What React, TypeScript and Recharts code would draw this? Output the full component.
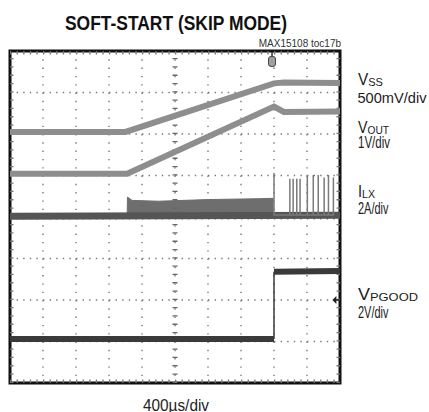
import { ComposedChart, Line, Area, XAxis, YAxis, CartesianGrid, ReferenceLine, ReferenceArea, ReferenceDot } from 'recharts'

// time axis in divisions (400us/div), vertical in divisions (8 div screen)
const xTicks = [0, 1, 2, 3, 4, 5, 6, 7, 8, 9, 10]
const yTicks = [0, 1, 2, 3, 4, 5, 6, 7, 8]

// VSS trace (500mV/div)
const vssT = [0, 3.5, 8.0, 8.3, 10]
const vssV = [6.05, 6.05, 7.22, 7.24, 7.23]

// VOUT trace (1V/div)
const voutT = [0, 3.55, 8.0, 8.3, 10]
const voutV = [5.04, 5.04, 6.66, 6.53, 6.54]

// ILX switching band during soft-start (top edge), bottom sits on the baseline
const ilxBandT = [3.55, 3.56, 3.7, 4.5, 6.0, 7.5, 7.99]
const ilxBandHi = [4.0, 4.48, 4.4, 4.38, 4.42, 4.44, 4.45]
const ilxBandLo = 3.97

// ILX baseline
const ilxBaseT = [0, 10]
const ilxBaseV = [4.02, 4.04]

// ILX skip-mode pulses after soft-start
const pulseT = [8.0, 8.48, 8.58, 8.69, 8.79, 9.01, 9.19, 9.34, 9.52, 9.65, 9.8]
const pulsePk = [5.06, 4.92, 4.92, 4.92, 4.92, 5.01, 5.01, 5.01, 4.95, 5.01, 4.95]
const ilxBase = 4.05

// VPGOOD (2V/div)
const pgLowT = [0, 8.0]
const pgLowV = [1.06, 1.06]
const pgHighT = [8.0, 10]
const pgHighV = [2.68, 2.7]

const vssData = vssT.map((t, i) => ({ t, v: vssV[i] }))
const voutData = voutT.map((t, i) => ({ t, v: voutV[i] }))
const bandData = ilxBandT.map((t, i) => ({ t, v: ilxBandHi[i] }))
const baseData = ilxBaseT.map((t, i) => ({ t, v: ilxBaseV[i] }))
const pulseData = pulseT.flatMap((t, i) => [
  { t, v: ilxBase },
  { t, v: pulsePk[i] },
  { t, v: ilxBase },
])
const pgLow = pgLowT.map((t, i) => ({ t, v: pgLowV[i] }))
const pgHigh = pgHighT.map((t, i) => ({ t, v: pgHighV[i] }))
const pgEdge = [{ t: 8.0, v: pgLowV[1] }, { t: 8.0, v: pgHighV[0] }]

const W = 429
const H = 412
const labelFont = '"Liberation Sans", Arial, sans-serif'

const TrigMarker = ({ cx, cy }: any) => (
  <g>
    <line x1={cx} y1={cy - 9} x2={cx} y2={cy - 4} stroke="#333" strokeWidth={1.5} />
    <rect x={cx - 3.5} y={cy - 4.5} width={7} height={10} rx={2.5} fill="#a0a0a0" stroke="#444" strokeWidth={1} />
  </g>
)

const GndArrow = ({ cx, cy }: any) => (
  <g>
    <path d={`M${cx - 3},${cy} L${cx + 1},${cy - 4} L${cx + 1},${cy + 4} Z`} fill="#222" />
    <line x1={cx} y1={cy} x2={cx + 4} y2={cy} stroke="#222" strokeWidth={1.5} />
  </g>
)

export default function App() {
  return (
    <div style={{ position: 'absolute', left: 0, top: 0, width: W, height: H, background: '#fff' }}>
      <ComposedChart width={W} height={H} margin={{ top: 51, right: 89, bottom: 29, left: 10 }}>
        <XAxis type="number" dataKey="t" domain={[0, 10]} ticks={xTicks} hide allowDataOverflow />
        <YAxis type="number" domain={[0, 8]} ticks={yTicks} hide allowDataOverflow />
        <CartesianGrid horizontal={false} stroke="#777" strokeWidth={1.4} strokeDasharray="1.4 6.9" />
        <CartesianGrid vertical={false} stroke="#777" strokeWidth={1.4} strokeDasharray="1.4 5.2" />

        {/* centre graticule ticks */}
        <ReferenceLine x={5} stroke="#666" strokeWidth={5} strokeDasharray="1.3 7" />
        <ReferenceLine y={4} stroke="#666" strokeWidth={5} strokeDasharray="1.3 5.3" />
        {/* edge ticks */}
        <ReferenceLine y={8} stroke="#777" strokeWidth={7} strokeDasharray="1.3 5.3" ifOverflow="hidden" />
        <ReferenceLine y={0} stroke="#777" strokeWidth={7} strokeDasharray="1.3 5.3" ifOverflow="hidden" />
        <ReferenceLine x={0} stroke="#777" strokeWidth={7} strokeDasharray="1.3 7" ifOverflow="hidden" />
        <ReferenceLine x={10} stroke="#777" strokeWidth={7} strokeDasharray="1.3 7" ifOverflow="hidden" />

        <Area data={bandData} dataKey="v" type="linear" baseValue={ilxBandLo} fill="#6e6e6e" fillOpacity={1} stroke="#6e6e6e" strokeWidth={1} isAnimationActive={false} />
        <Line data={baseData} dataKey="v" type="linear" dot={false} stroke="#555" strokeWidth={7} isAnimationActive={false} />
        <Line data={pulseData} dataKey="v" type="linear" dot={false} stroke="#7a7a7a" strokeWidth={1.5} isAnimationActive={false} />

        <Line data={vssData} dataKey="v" type="linear" dot={false} stroke="#8e8e8e" strokeWidth={6} isAnimationActive={false} />
        <Line data={voutData} dataKey="v" type="linear" dot={false} stroke="#8e8e8e" strokeWidth={6} isAnimationActive={false} />

        <Line data={pgLow} dataKey="v" type="linear" dot={false} stroke="#3a3a3a" strokeWidth={6} isAnimationActive={false} />
        <Line data={pgHigh} dataKey="v" type="linear" dot={false} stroke="#3a3a3a" strokeWidth={6} isAnimationActive={false} />
        <Line data={pgEdge} dataKey="v" type="linear" dot={false} stroke="#3a3a3a" strokeWidth={1.5} isAnimationActive={false} />

        <ReferenceArea x1={0} x2={10} y1={0} y2={8} fill="none" stroke="#111" strokeWidth={3} />
        <ReferenceDot x={7.94} y={7.76} r={4} shape={<TrigMarker />} />
        <ReferenceDot x={9.86} y={2.0} r={4} shape={<GndArrow />} />
      </ComposedChart>

      <svg width={W} height={H} style={{ position: 'absolute', left: 0, top: 0, pointerEvents: 'none' }}>
        <text x={65} y={29.5} textLength={222} lengthAdjust="spacingAndGlyphs" fontFamily={labelFont} fontWeight="bold" fontSize={20} fill="#111">
          SOFT-START (SKIP MODE)
        </text>
        <text x={341} y={47} textAnchor="end" fontFamily={labelFont} fontSize={10} fill="#333">
          MAX15108 toc17b
        </text>

        <g fontFamily={labelFont} fill="#222">
          <text x={358} y={85} fontSize={16} textLength={25} lengthAdjust="spacingAndGlyphs">
            V<tspan fontSize={11.5} dy={1}>SS</tspan>
          </text>
          <text x={357.5} y={102.5} fontSize={15} textLength={69} lengthAdjust="spacingAndGlyphs">500mV/div</text>

          <text x={358} y={132.5} fontSize={16} textLength={31} lengthAdjust="spacingAndGlyphs">
            V<tspan fontSize={11.5} dy={1}>OUT</tspan>
          </text>
          <text x={358} y={148.3} fontSize={16} textLength={32} lengthAdjust="spacingAndGlyphs">1V/div</text>

          <text x={358} y={196.7} fontSize={16} textLength={17} lengthAdjust="spacingAndGlyphs">
            I<tspan fontSize={11.5} dy={1}>LX</tspan>
          </text>
          <text x={358} y={214.3} fontSize={16} textLength={30.5} lengthAdjust="spacingAndGlyphs">2A/div</text>

          <text x={358} y={300} fontSize={16} textLength={60} lengthAdjust="spacingAndGlyphs">
            V<tspan fontSize={11.5} dy={1}>PGOOD</tspan>
          </text>
          <text x={358} y={318.3} fontSize={16} textLength={30.5} lengthAdjust="spacingAndGlyphs">2V/div</text>

          <text x={143} y={410.5} fontSize={16} textLength={66} lengthAdjust="spacingAndGlyphs">400µs/div</text>
        </g>
      </svg>
    </div>
  )
}
